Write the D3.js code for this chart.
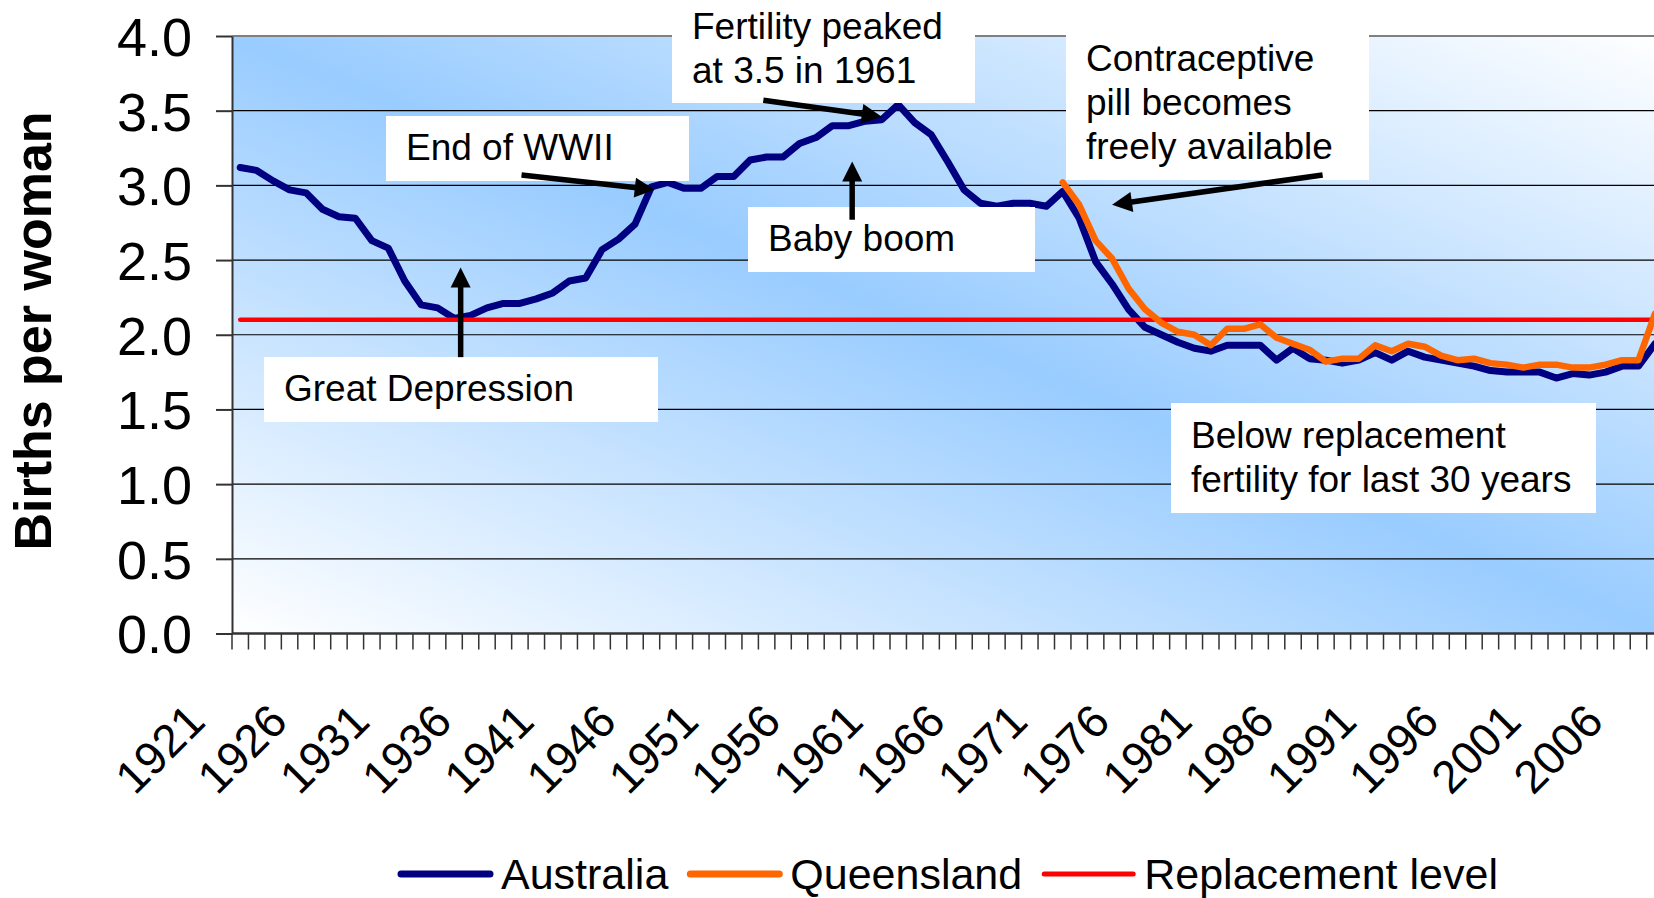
<!DOCTYPE html>
<html>
<head>
<meta charset="utf-8">
<script src="https://cdn.jsdelivr.net/npm/d3@7/dist/d3.min.js"></script>
<style>
  body { margin: 0; background: #fff; overflow: hidden; }
  svg { display: block; font-family: "Liberation Sans", Arial, sans-serif; }
</style>
</head>
<body>
<svg id="chart" width="1654" height="898"></svg>
<script>
// categories: one per year
const years = d3.range(1921, 2008);
const tickYears = [1921, 1926, 1931, 1936, 1941, 1946, 1951, 1956, 1961, 1966, 1971,
    1976, 1981, 1986, 1991, 1996, 2001, 2006];
const yTicks = [0, 0.5, 1, 1.5, 2, 2.5, 3, 3.5, 4];

// births per woman, 1921 - 2007
const australia = [
    3.12, 3.10, 3.03, 2.97, 2.95, 2.84, 2.79, 2.78, 2.63, 2.58,
    2.36, 2.20, 2.18, 2.11, 2.13, 2.18, 2.21, 2.21, 2.24, 2.28,
    2.36, 2.38, 2.57, 2.64, 2.74, 2.99, 3.02, 2.98, 2.98, 3.06,
    3.06, 3.17, 3.19, 3.19, 3.28, 3.32, 3.40, 3.40, 3.43, 3.44,
    3.54, 3.42, 3.34, 3.16, 2.97, 2.88, 2.86, 2.88, 2.88, 2.86,
    2.96, 2.78, 2.49, 2.34, 2.17, 2.05, 2.00, 1.95, 1.91, 1.89,
    1.93, 1.93, 1.93, 1.83, 1.91, 1.84, 1.83, 1.81, 1.83, 1.88,
    1.83, 1.89, 1.85, 1.83, 1.81, 1.79, 1.76, 1.75, 1.75, 1.75,
    1.71, 1.74, 1.73, 1.75, 1.79, 1.79, 1.94
];
// Queensland series starts in 1971
const qldStart = 1971;
const queensland = [
    3.02, 2.87, 2.63, 2.51, 2.31, 2.17, 2.08, 2.02, 2.00, 1.93,
    2.04, 2.04, 2.07, 1.98, 1.94, 1.90, 1.82, 1.84, 1.84, 1.93,
    1.89, 1.94, 1.92, 1.86, 1.83, 1.84, 1.81, 1.80, 1.78, 1.80,
    1.80, 1.78, 1.78, 1.80, 1.83, 1.83, 2.14
];
const replacementLevel = 2.1;

const seriesNames = ["Australia", "Queensland", "Replacement level"];
const seriesColors = ["#000080", "#FF6600", "#FF0000"];

const notes = [
    {lines: ["End of WWII"], box: [386, 116, 303, 65], arrow: [[1938.1, 3.07], [1946.2, 2.97]]},
    {lines: ["Fertility peaked", "at 3.5 in 1961"], box: [672, -5, 303, 108], arrow: [[1952.8, 3.57], [1960.0, 3.46]]},
    {lines: ["Baby boom"], box: [748, 207, 287, 65], arrow: [[1958.2, 2.77], [1958.2, 3.16]]},
    {lines: ["Contraceptive", "pill becomes", "freely available"], box: [1066, 35, 303, 145], arrow: [[1986.8, 3.07], [1974.0, 2.87]]},
    {lines: ["Great Depression"], box: [264, 357, 394, 65], arrow: [[1934.4, 1.85], [1934.4, 2.45]]},
    {lines: ["Below replacement", "fertility for last 30 years"], box: [1171, 403, 425, 110], arrow: null}
];

const svg = d3.select("#chart");
const plot = {left: 232, top: 36, bottom: 633.5, step: 16.45};
plot.right = plot.left + years.length * plot.step;

const x = d3.scaleBand().domain(years).range([plot.left, plot.right]).padding(0);
const cx = yr => x(yr) + x.bandwidth() / 2;
// fractional years for annotation arrows
const xYear = d3.scaleLinear().domain([years[0], years[years.length - 1]])
    .range([cx(years[0]), cx(years[years.length - 1])]);
const y = d3.scaleLinear().domain([0, 4]).range([plot.bottom, plot.top]);

// background gradient
const defs = svg.append("defs");
const grad = defs.append("linearGradient").attr("id", "bg")
    .attr("x1", 0).attr("y1", 1).attr("x2", 1).attr("y2", 0);
grad.append("stop").attr("offset", "0%").attr("stop-color", "#ffffff");
grad.append("stop").attr("offset", "50%").attr("stop-color", "#99CCFF");
grad.append("stop").attr("offset", "100%").attr("stop-color", "#ffffff");

svg.append("rect")
    .attr("x", plot.left).attr("y", plot.top)
    .attr("width", plot.right - plot.left).attr("height", plot.bottom - plot.top)
    .attr("fill", "url(#bg)");

// gridlines
svg.append("g").selectAll("line")
    .data(yTicks.filter(d => d > 0 && d < 4))
    .enter().append("line")
    .attr("x1", plot.left).attr("x2", plot.right)
    .attr("y1", d => y(d)).attr("y2", d => y(d))
    .attr("stroke", "#000").attr("stroke-width", 1.2);

svg.append("line")
    .attr("x1", plot.left).attr("x2", plot.right)
    .attr("y1", y(4)).attr("y2", y(4))
    .attr("stroke", "#808080").attr("stroke-width", 2);

// y axis
const yAxis = svg.append("g")
    .attr("transform", "translate(" + plot.left + ",0)")
    .call(d3.axisLeft(y).tickValues(yTicks).tickSize(16).tickSizeOuter(0)
        .tickPadding(24).tickFormat(d3.format(".1f")));
yAxis.select(".domain").attr("stroke", "#333").attr("stroke-width", 2);
yAxis.selectAll(".tick line").attr("stroke", "#333").attr("stroke-width", 2);
yAxis.selectAll(".tick text")
    .attr("font-size", "54px").attr("fill", "#000")
    .attr("font-family", "'Liberation Sans', Arial, sans-serif")
    .attr("dy", "0.36em");

// x axis: ticks on band edges
const xAxis = svg.append("g");
xAxis.append("line")
    .attr("x1", plot.left).attr("x2", plot.right)
    .attr("y1", plot.bottom).attr("y2", plot.bottom)
    .attr("stroke", "#333").attr("stroke-width", 2.5);
xAxis.selectAll(".xt")
    .data(years.map(d => x(d)).concat([plot.right]))
    .enter().append("line")
    .attr("class", "xt")
    .attr("x1", d => d).attr("x2", d => d)
    .attr("y1", plot.bottom).attr("y2", plot.bottom + 16)
    .attr("stroke", "#333").attr("stroke-width", 1.5);
xAxis.selectAll(".xl")
    .data(tickYears)
    .enter().append("text")
    .attr("class", "xl")
    .attr("transform", d => "translate(" + (cx(d) - 33) + ",724) rotate(-45)")
    .attr("text-anchor", "end")
    .attr("font-size", "46px")
    .text(d => d);

// y axis title
svg.append("text")
    .attr("transform", "translate(51,331) rotate(-90)")
    .attr("text-anchor", "middle")
    .attr("font-size", "52px").attr("font-weight", "bold")
    .text("Births per woman");

// series
const line = d3.line()
    .defined(d => d.value != null)
    .x(d => cx(d.year))
    .y(d => y(d.value));

const ausData = years.map((yr, i) => ({year: yr, value: australia[i]}));
const qldData = queensland.map((v, i) => ({year: qldStart + i, value: v}));
const repData = years.map(yr => ({year: yr, value: replacementLevel}));

const lines = svg.append("g").attr("fill", "none")
    .attr("stroke-linejoin", "round").attr("stroke-linecap", "round");
lines.append("path").datum(ausData).attr("d", line)
    .attr("stroke", seriesColors[0]).attr("stroke-width", 7);
lines.append("path").datum(repData).attr("d", line)
    .attr("stroke", seriesColors[2]).attr("stroke-width", 4.5);
lines.append("path").datum(qldData).attr("d", line)
    .attr("stroke", seriesColors[1]).attr("stroke-width", 6.5);

// annotation boxes
const noteG = svg.append("g");
notes.forEach(n => {
    let [bx, by, bw, bh] = n.box;
    noteG.append("rect")
        .attr("x", bx).attr("y", by).attr("width", bw).attr("height", bh)
        .attr("fill", "#fff");
    let t = noteG.append("text")
        .attr("font-size", "37px").attr("fill", "#000");
    let firstBase = n.lines.length === 1 ? by + 44 : by + (bh - (n.lines.length - 1) * 44) / 2 + 12;
    if (n.lines.length === 3) firstBase -= 5;
    n.lines.forEach((s, i) => {
        t.append("tspan").attr("x", bx + 20).attr("y", firstBase + i * 44).text(s);
    });
});

// arrows
function drawArrow(p0, p1) {
    let x0 = xYear(p0[0]), y0 = y(p0[1]), x1 = xYear(p1[0]), y1 = y(p1[1]);
    let len = Math.hypot(x1 - x0, y1 - y0);
    let ux = (x1 - x0) / len, uy = (y1 - y0) / len;
    let head = 20, half = 10;
    let bx = x1 - ux * head, by = y1 - uy * head;
    noteG.append("line")
        .attr("x1", x0).attr("y1", y0).attr("x2", bx + ux * 2).attr("y2", by + uy * 2)
        .attr("stroke", "#000").attr("stroke-width", 5.5);
    noteG.append("path")
        .attr("d", "M" + x1 + "," + y1 +
            "L" + (bx - uy * half) + "," + (by + ux * half) +
            "L" + (bx + uy * half) + "," + (by - ux * half) + "Z")
        .attr("fill", "#000");
}
notes.filter(n => n.arrow).forEach(n => drawArrow(n.arrow[0], n.arrow[1]));

// legend
const legend = svg.append("g");
let lx = 401;
seriesNames.forEach((name, i) => {
    legend.append("line")
        .attr("x1", lx).attr("x2", lx + 89)
        .attr("y1", 874).attr("y2", 874)
        .attr("stroke", seriesColors[i])
        .attr("stroke-width", i === 2 ? 5 : 7)
        .attr("stroke-linecap", "round");
    let t = legend.append("text")
        .attr("x", lx + 100).attr("y", 889)
        .attr("font-size", "43px")
        .attr("textLength", null)
        .text(name);
    lx = lx + 100 + t.node().getComputedTextLength() + 22;
});
</script>
</body>
</html>
